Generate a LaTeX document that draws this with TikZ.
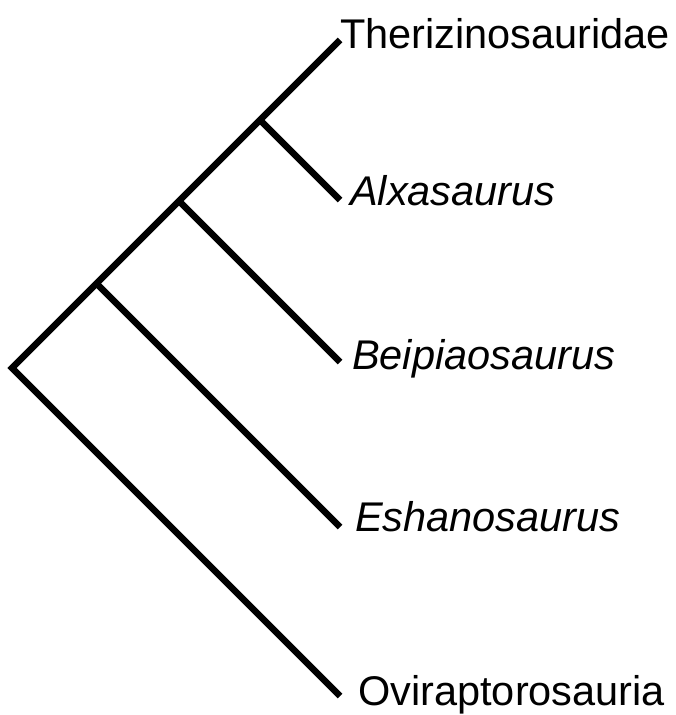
\documentclass[tikz,border=0pt]{standalone}
\usepackage{fontspec}
\setmainfont{Liberation Sans}
\begin{document}
\begin{tikzpicture}[x=1pt,y=-1pt,
  branch/.style={line width=6.5pt,line cap=butt,line join=miter},
  taxon/.style={anchor=base west,inner sep=0pt,font=\fontsize{41.5}{49}\selectfont}]
\useasboundingbox (0,0) rectangle (675,715);
\coordinate (root) at (12,368);
\coordinate (n1) at (96.5,283.5);
\coordinate (n2) at (179,201);
\coordinate (n3) at (260,120);
\coordinate (tT) at (340,40);
\coordinate (tA) at (340,200);
\coordinate (tB) at (340,362);
\coordinate (tE) at (340,527);
\coordinate (tO) at (340,696);
\draw[branch] (tT) -- (root) -- (tO);
\draw[branch] (n1) -- (tE);
\draw[branch] (n2) -- (tB);
\draw[branch] (n3) -- (tA);
\node[taxon] (lT) at (340,48) {Therizinosauridae};
\node[taxon] (lA) at (350,205) {\itshape Alxasaurus};
\node[taxon] (lB) at (352,369) {\itshape Beipiaosaurus};
\node[taxon] (lE) at (355,531) {\itshape Eshanosaurus};
\node[taxon] (lO) at (358,705) {Oviraptorosauria};
\end{tikzpicture}
\end{document}
